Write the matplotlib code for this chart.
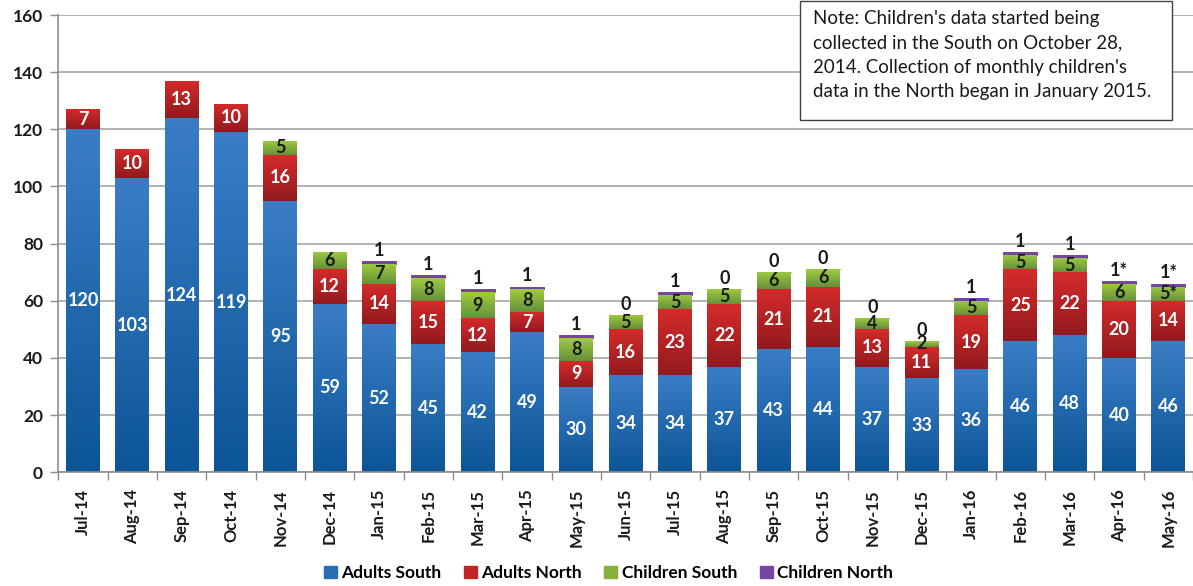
import numpy as np
import matplotlib
matplotlib.use("Agg")
import matplotlib.pyplot as plt
from matplotlib.colors import LinearSegmentedColormap
from matplotlib.patches import Patch, Rectangle

plt.rcParams['font.family'] = ['Lato', 'DejaVu Sans']

months = ["Jul-14", "Aug-14", "Sep-14", "Oct-14", "Nov-14", "Dec-14",
          "Jan-15", "Feb-15", "Mar-15", "Apr-15", "May-15", "Jun-15",
          "Jul-15", "Aug-15", "Sep-15", "Oct-15", "Nov-15", "Dec-15",
          "Jan-16", "Feb-16", "Mar-16", "Apr-16", "May-16"]
adults_south = [120, 103, 124, 119, 95, 59, 52, 45, 42, 49, 30, 34,
                34, 37, 43, 44, 37, 33, 36, 46, 48, 40, 46]
adults_north = [7, 10, 13, 10, 16, 12, 14, 15, 12, 7, 9, 16,
                23, 22, 21, 21, 13, 11, 19, 25, 22, 20, 14]
# nan = not yet collected
children_south = [np.nan, np.nan, np.nan, np.nan, 5, 6, 7, 8, 9, 8, 8, 5,
                  5, 5, 6, 6, 4, 2, 5, 5, 5, 6, 5]
children_north = [np.nan, np.nan, np.nan, np.nan, np.nan, np.nan, 1, 1, 1, 1, 1, 0,
                  1, 0, 0, 0, 0, 0, 1, 1, 1, 1, 1]
# provisional figures marked with *
cs_star = [False] * 22 + [True]
cn_star = [False] * 21 + [True, True]

note = ("Note: Children's data started being\n"
        "collected in the South on October 28,\n"
        "2014. Collection of monthly children's\n"
        "data in the North began in January 2015.")

fig = plt.figure(figsize=(11.93, 5.86), dpi=100)
ax = fig.add_axes([0.0489, 0.194, 0.9511, 0.7804])

x = np.arange(len(months))
a_s = np.array(adults_south, float)
a_n = np.array(adults_north, float)
c_s = np.array(children_south, float)
c_n = np.array(children_north, float)
w = 0.685

b1 = ax.bar(x, a_s, w, color="#2a6db5", zorder=2)
b2 = ax.bar(x, a_n, w, bottom=a_s, color="#c02424", zorder=2)
b3 = ax.bar(x, c_s, w, bottom=a_s + a_n, color="#86b13a", zorder=2)
b4 = ax.bar(x, c_n, w, bottom=a_s + a_n + np.nan_to_num(c_s), color="#7346a0",
            edgecolor="#7346a0", linewidth=0.7, zorder=2)

# vertical gradient fills, light at top, dark at bottom
grads = [(b1, "#3a7dc6", "#0c5596"), (b2, "#d42b2a", "#921a1e"),
         (b3, "#a0cb40", "#66913a")]
for cont, top, bot in grads:
    cmap = LinearSegmentedColormap.from_list("g", [bot, top])
    for p in cont.patches:
        bx, by = p.get_x(), p.get_y()
        bw, bh = p.get_width(), p.get_height()
        if not np.isfinite(bh) or bh <= 0:
            continue
        im = ax.imshow(np.linspace(0, 1, 64).reshape(-1, 1), cmap=cmap, origin="lower",
                       extent=[bx, bx + bw, by, by + bh], aspect="auto", zorder=2.5)
        im.set_clip_path(p)

lab = dict(ha="center", va="center", fontsize=13, fontweight="bold", zorder=5)
for i in range(len(months)):
    ax.text(x[i], a_s[i] / 2, f"{adults_south[i]}", color="white", **lab)
    ax.text(x[i], a_s[i] + a_n[i] / 2, f"{adults_north[i]}", color="white", **lab)
    if np.isfinite(c_s[i]):
        t = f"{int(c_s[i])}" + ("*" if cs_star[i] else "")
        ax.text(x[i], a_s[i] + a_n[i] + c_s[i] / 2, t, color="#1a1a1a", **lab)
    if np.isfinite(c_n[i]):
        top = a_s[i] + a_n[i] + c_s[i] + c_n[i]
        t = f"{int(c_n[i])}" + ("*" if cn_star[i] else "")
        ax.text(x[i], top + 0.8, t, color="#1a1a1a", ha="center", va="bottom",
                fontsize=13, fontweight="bold", zorder=5)

ax.set_xlim(-0.5, 22.38)
ax.set_ylim(0, 160)
ax.set_yticks(range(0, 161, 20))
ax.set_xticks(x)
ax.set_xticklabels(months, rotation=90, fontsize=12, fontweight="bold", color="#1a1a1a")
ax.set_xticks(np.arange(-0.5, len(months), 1), minor=True)
ax.tick_params(axis="x", which="major", length=0, pad=12)
ax.tick_params(axis="x", which="minor", length=6, color="#8c8c8c", width=1)
ax.tick_params(axis="y", length=6, color="#8c8c8c", width=1, labelsize=12.5,
               labelcolor="#1a1a1a", pad=5)
for t in ax.get_yticklabels():
    t.set_fontweight("bold")
ax.grid(axis="y", color="#a6a6a6", linewidth=1.2, zorder=0)
ax.set_axisbelow(True)
for s in ["top", "right"]:
    ax.spines[s].set_visible(False)
for s in ["left", "bottom"]:
    ax.spines[s].set_color("#8c8c8c")
    ax.spines[s].set_linewidth(1.2)

# note box
fig.patches.append(Rectangle((800 / 1193, 1 - 120 / 586), 372 / 1193, 119 / 586,
                             transform=fig.transFigure, facecolor="white",
                             edgecolor="#404040", linewidth=1, zorder=10))
fig.text(813 / 1193, 1 - 10 / 586, note, ha="left", va="top", fontsize=13.5,
         linespacing=1.53, color="#1a1a1a", zorder=11)

handles = [Patch(color="#2a6db5", label="Adults South"),
           Patch(color="#c02424", label="Adults North"),
           Patch(color="#86b13a", label="Children South"),
           Patch(color="#7346a0", label="Children North")]
leg = fig.legend(handles=handles, loc="center", bbox_to_anchor=(0.51, 0.022), ncol=4,
                 frameon=False, handlelength=0.75, handleheight=0.75, handletextpad=0.25,
                 columnspacing=1.3, prop={"size": 12.5, "weight": "bold"})

fig.savefig("out.png", dpi=100)
